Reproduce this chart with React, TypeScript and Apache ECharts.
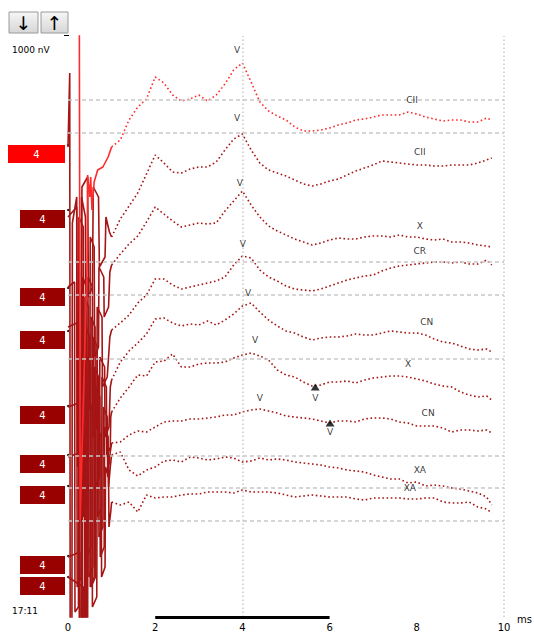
import React, { useEffect, useRef } from "react";
import * as echarts from "echarts";

// time axis (ms) for the recorded part of each trace
const times = [1.0, 1.2, 1.4, 1.6, 1.8, 2.0, 2.2, 2.4, 2.6, 2.8, 3.0, 3.2, 3.4, 3.6, 3.8, 4.0, 4.2, 4.4, 4.6, 4.8, 5.0, 5.2, 5.4, 5.6, 5.8, 6.0, 6.2, 6.4, 6.6, 6.8, 7.0, 7.2, 7.4, 7.6, 7.8, 8.0, 8.2, 8.4, 8.6, 8.8, 9.0, 9.2, 9.4, 9.6, 9.72];

// trace levels (display units, baseline offset included)
const trace1 = [470, 477, 497, 510, 518, 540, 534, 522, 516, 518, 522, 516, 522, 533, 547, 554, 535, 515, 506, 501, 497, 490, 486, 486, 487, 489, 492, 494, 497, 498, 500, 502, 502, 502, 505, 503, 500, 498, 496, 497, 497, 495, 495, 499, 497];
const trace2 = [380, 398, 411, 424, 443, 462, 454, 445, 444, 448, 450, 450, 455, 467, 478, 483, 467, 454, 447, 444, 441, 437, 433, 431, 433, 436, 438, 442, 446, 449, 452, 456, 455, 454, 453, 452, 452, 451, 451, 452, 452, 452, 454, 457, 459];
const trace3 = [352, 363, 373, 381, 395, 410, 403, 396, 390, 392, 394, 393, 394, 406, 416, 426, 412, 400, 391, 386, 382, 378, 375, 372, 374, 377, 379, 378, 378, 380, 381, 381, 380, 382, 380, 380, 378, 377, 378, 375, 375, 374, 372, 371, 370];
const trace4 = [287, 294, 302, 314, 322, 338, 338, 332, 328, 330, 332, 334, 336, 340, 352, 361, 359, 347, 340, 336, 331, 328, 327, 326, 328, 331, 334, 337, 339, 341, 342, 346, 349, 351, 352, 353, 354, 355, 355, 354, 355, 353, 353, 357, 352];
const trace5 = [237, 255, 266, 274, 283, 298, 299, 294, 291, 293, 292, 296, 292, 297, 303, 311, 314, 305, 297, 291, 286, 284, 280, 277, 279, 280, 280, 281, 283, 282, 282, 284, 286, 285, 284, 284, 282, 278, 275, 274, 271, 268, 267, 268, 265];
const trace6 = [205, 219, 230, 242, 241, 255, 256, 263, 250, 250, 253, 254, 254, 255, 259, 262, 264, 261, 257, 247, 242, 240, 235, 231, 232, 235, 235, 236, 234, 237, 239, 240, 241, 241, 240, 238, 236, 233, 231, 230, 225, 222, 220, 221, 217];
const trace7 = [174, 175, 182, 186, 185, 190, 195, 196, 196, 198, 198, 199, 200, 202, 202, 205, 207, 208, 206, 204, 201, 200, 199, 198, 196, 194, 196, 196, 195, 198, 199, 199, 198, 195, 194, 191, 191, 191, 189, 185, 187, 187, 186, 187, 184];
const trace8 = [162, 165, 147, 141, 147, 150, 156, 157, 155, 160, 159, 157, 158, 160, 159, 155, 156, 159, 157, 158, 157, 155, 154, 153, 152, 150, 149, 147, 146, 145, 142, 140, 138, 138, 134, 135, 131, 132, 131, 129, 128, 126, 124, 120, 112];
const trace9 = [115, 112, 115, 105, 122, 119, 120, 120, 122, 123, 123, 125, 125, 125, 124, 127, 125, 125, 125, 124, 122, 120, 121, 122, 121, 120, 120, 120, 118, 117, 119, 119, 119, 119, 118, 118, 119, 119, 115, 114, 114, 115, 110, 108, 104];

// stimulus artifact at the start of each trace: [ms, level]
const art1 = [[0.26, 600], [0.28, 97], [0.44, 357], [0.45, 442], [0.5, 420], [0.52, 440], [0.55, 407], [0.6, 435], [0.68, 447], [0.8, 450], [0.92, 460]];
const art2 = [[0, 470], [0.04, 544], [0.05, -20], [0.09, -20], [0.1, 394], [0.2, 420], [0.22, 150], [0.3, 160], [0.32, 430], [0.45, 440], [0.47, 320], [0.56, 330], [0.58, 430], [0.7, 420], [0.72, 350], [0.85, 360], [0.87, 400], [0.95, 385]];
const art3 = [[0, 400], [0.2, 410], [0.21, 30], [0.3, 40], [0.31, 420], [0.4, 400], [0.41, 200], [0.5, 210], [0.51, 380], [0.6, 370], [0.61, 260], [0.7, 270], [0.71, 350], [0.82, 340], [0.83, 300], [0.93, 310], [0.96, 345]];
const art4 = [[0, 330], [0.15, 335], [0.16, 5], [0.24, 10], [0.25, 400], [0.35, 390], [0.36, 100], [0.45, 110], [0.46, 340], [0.56, 330], [0.57, 180], [0.66, 190], [0.67, 310], [0.78, 300], [0.79, 230], [0.9, 240], [0.96, 280]];
const art5 = [[0, 290], [0.25, 295], [0.26, -20], [0.33, -20], [0.34, 340], [0.42, 330], [0.43, 60], [0.52, 70], [0.53, 300], [0.62, 290], [0.63, 130], [0.72, 140], [0.73, 260], [0.84, 250], [0.85, 180], [0.94, 190], [0.97, 230]];
const art6 = [[0, 210], [0.3, 215], [0.31, -20], [0.38, -20], [0.39, 320], [0.47, 310], [0.48, 40], [0.57, 50], [0.58, 280], [0.67, 270], [0.68, 100], [0.77, 110], [0.78, 240], [0.88, 230], [0.89, 160], [0.97, 170], [0.98, 200]];
const art7 = [[0, 160], [0.32, 165], [0.33, -20], [0.4, -20], [0.41, 290], [0.5, 280], [0.51, 30], [0.6, 40], [0.61, 250], [0.7, 240], [0.71, 80], [0.8, 90], [0.81, 210], [0.9, 200], [0.91, 140], [0.97, 165]];
const art8 = [[0, 60], [0.27, 65], [0.28, -20], [0.42, -20], [0.43, 260], [0.52, 250], [0.53, 30], [0.63, 40], [0.64, 230], [0.73, 220], [0.74, 60], [0.83, 70], [0.84, 190], [0.92, 180], [0.93, 130], [0.97, 150]];
const art9 = [[0, 40], [0.35, 30], [0.36, -20], [0.45, -20], [0.46, 220], [0.55, 210], [0.56, 10], [0.66, 20], [0.67, 190], [0.76, 180], [0.77, 40], [0.85, 50], [0.86, 150], [0.93, 140], [0.94, 90], [0.98, 105]];

const traces = [trace1, trace2, trace3, trace4, trace5, trace6, trace7, trace8, trace9];
const artifacts = [art1, art2, art3, art4, art5, art6, art7, art8, art9];
const levelLabels = ["4", "4", "4", "4", "4", "4", "4", "4", "4"];

// dashed reference levels
const refLevels = [517, 484, 355, 322, 258, 161, 129, 96];
// dotted time grid lines (ms)
const timeGrid = [4, 10];
// peak labels: [ms, level, text]
const peakLabels = [
  [3.88, 567, "V"], [3.88, 499, "V"], [3.94, 434, "V"], [4.01, 373, "V"],
  [4.13, 324, "V"], [4.29, 277, "V"], [4.4, 219, "V"], [5.67, 219, "V"], [6.01, 185, "V"],
  [7.89, 517, "CII"], [8.07, 465, "CII"], [8.07, 391, "X"], [8.07, 366, "CR"],
  [8.23, 295, "CN"], [7.8, 253, "X"], [8.26, 204, "CN"], [8.07, 147, "XA"], [7.84, 129, "XA"],
];
// triangle markers: [ms, level]
const triMarks = [[5.67, 230], [6.01, 194]];
// scale bar (ms)
const scaleBar = [2, 6];

const BRIGHT = "#ff2b2b";
const DARK = "#a51515";

export default function App() {
  const ref = useRef<HTMLDivElement>(null);
  useEffect(() => {
    if (!ref.current) return;
    const chart = echarts.init(ref.current, null, { renderer: "svg" });
    const series: any[] = [];
    series.push({
      type: "line",
      data: [],
      silent: true,
      markLine: {
        symbol: "none",
        silent: true,
        label: { show: false },
        lineStyle: { color: "#c8c8c8", type: [4, 3], width: 1.5 },
        data: refLevels.map((v) => ({ yAxis: v })),
      },
      z: 1,
    });
    series.push({
      type: "line",
      data: [],
      silent: true,
      markLine: {
        symbol: "none",
        silent: true,
        label: { show: false },
        lineStyle: { color: "#c8c8c8", type: [1.5, 2.5], width: 1.5 },
        data: timeGrid.map((t) => ({ xAxis: t })),
      },
      z: 1,
    });
    series.push({
      type: "line",
      data: [],
      silent: true,
      markLine: {
        symbol: "none",
        silent: true,
        label: { show: false },
        lineStyle: { color: "#000", type: "solid", width: 3 },
        data: [[{ coord: [scaleBar[0], 0] }, { coord: [scaleBar[1], 0] }]],
      },
      z: 3,
    });
    traces.forEach((tr, i) => {
      const color = i === 0 ? BRIGHT : DARK;
      const main = times.map((t, j) => [t, tr[j]]);
      series.push({
        type: "line",
        data: [...artifacts[i], main[0]],
        showSymbol: false,
        silent: true,
        lineStyle: { color, width: 1.6 },
        z: i === 0 ? 4 : 3,
      });
      series.push({
        type: "line",
        data: main,
        showSymbol: false,
        silent: true,
        lineStyle: { color, width: 1.6, type: [1.6, 2.6] },
        z: i === 0 ? 4 : 3,
      });
    });
    series.push({
      type: "scatter",
      data: triMarks,
      symbol: "triangle",
      symbolSize: [9, 7],
      itemStyle: { color: "#000" },
      silent: true,
      z: 5,
    });
    series.push({
      type: "scatter",
      data: peakLabels,
      symbolSize: 1,
      itemStyle: { color: "rgba(0,0,0,0)" },
      silent: true,
      label: {
        show: true,
        position: "inside",
        formatter: (p: any) => p.data[2],
        color: "#000",
        fontSize: 9,
        fontFamily: "DejaVu Sans",
      },
      z: 6,
    });

    const boxTops = [145, 210, 288, 331, 406, 455, 486, 556, 577];
    const graphic: any[] = [];
    const btnFill = new echarts.graphic.LinearGradient(0, 0, 0, 1, [
      { offset: 0, color: "#f6f6f6" },
      { offset: 1, color: "#d6d6d6" },
    ]);
    graphic.push({ type: "rect", shape: { x: 9, y: 12, width: 29, height: 21 }, style: { fill: btnFill, stroke: "#9a9a9a", lineWidth: 1 } });
    graphic.push({ type: "rect", shape: { x: 41, y: 12, width: 27, height: 21 }, style: { fill: btnFill, stroke: "#9a9a9a", lineWidth: 1 } });
    graphic.push({ type: "text", x: 23.5, y: 23, style: { text: "↓", fontSize: 19, fill: "#000", align: "center", verticalAlign: "middle", fontFamily: "DejaVu Sans" } });
    graphic.push({ type: "text", x: 54.5, y: 23, style: { text: "↑", fontSize: 19, fill: "#000", align: "center", verticalAlign: "middle", fontFamily: "DejaVu Sans" } });
    graphic.push({ type: "rect", shape: { x: 64, y: 35, width: 5, height: 1 }, style: { fill: "#000" } });
    graphic.push({ type: "text", x: 12, y: 50, style: { text: "1000 nV", fontSize: 9, fill: "#000", verticalAlign: "middle", fontFamily: "DejaVu Sans" } });
    graphic.push({ type: "text", x: 12, y: 611, style: { text: "17:11", fontSize: 9, fill: "#000", verticalAlign: "middle", fontFamily: "DejaVu Sans" } });
    graphic.push({ type: "text", x: 517, y: 619, style: { text: "ms", fontSize: 10, fill: "#000", verticalAlign: "middle", fontFamily: "DejaVu Sans" } });
    boxTops.forEach((top, i) => {
      const x0 = i === 0 ? 8 : 20;
      graphic.push({ type: "rect", shape: { x: x0, y: top, width: 65 - x0, height: 18 }, style: { fill: i === 0 ? "#ff0000" : "#990000" } });
      graphic.push({ type: "text", x: (x0 + 65) / 2, y: top + 9, style: { text: levelLabels[i], fontSize: 10, fill: "#fff", align: "center", verticalAlign: "middle", fontFamily: "DejaVu Sans" } });
      graphic.push({ type: "circle", shape: { cx: 68, cy: top, r: 1 }, style: { fill: "#000" } });
    });

    chart.setOption({
      animation: false,
      grid: { left: 68, right: 30, top: 36, bottom: 15, containLabel: false },
      xAxis: {
        type: "value",
        min: 0,
        max: 10,
        interval: 2,
        axisLine: { show: false },
        axisTick: { show: false },
        splitLine: { show: false },
        axisLabel: { fontSize: 10, color: "#000", margin: 5, fontFamily: "DejaVu Sans" },
      },
      yAxis: {
        type: "value",
        min: 0,
        max: 581,
        show: false,
        splitLine: { show: false },
      },
      series,
      graphic,
    });
    return () => chart.dispose();
  }, []);
  return <div ref={ref} style={{ position: "fixed", left: 0, top: 0, width: 534, height: 632, background: "#fff" }} />;
}
